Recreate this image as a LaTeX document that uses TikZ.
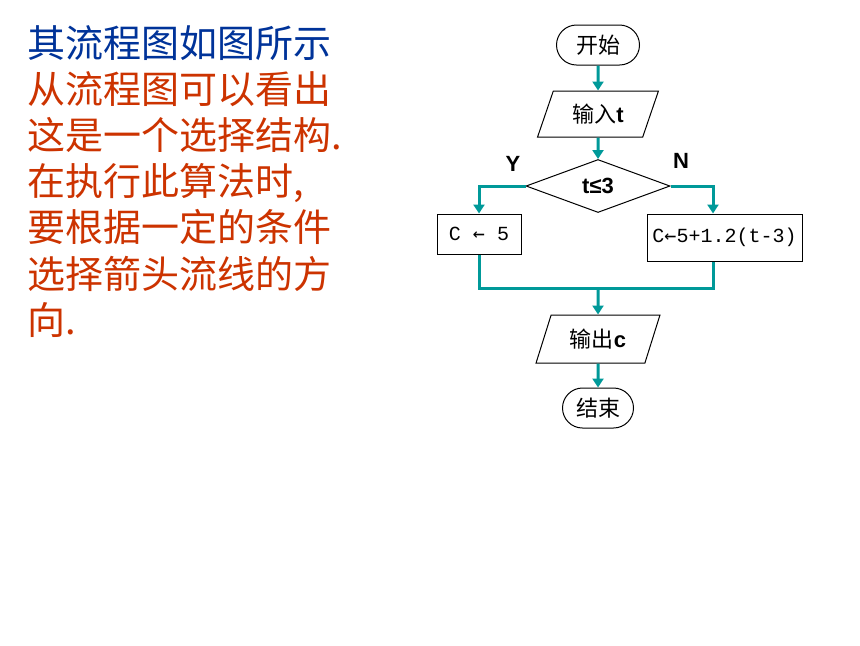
\documentclass[tikz,border=0pt]{standalone}
\usepackage{fontspec}
\setmainfont{Liberation Sans}
\newfontfamily\cjk{Noto Sans CJK SC}
\newfontfamily\codefont{Liberation Mono}
\newfontfamily\arrowfont{DejaVu Sans Mono}
\usepackage{tikz}
\usetikzlibrary{arrows.meta}
\usetikzlibrary{positioning}
\usetikzlibrary{shapes.geometric}
\usetikzlibrary{shapes.misc}
\definecolor{flowteal}{RGB}{0,153,153}
\definecolor{headblue}{RGB}{0,51,153}
\definecolor{notered}{RGB}{204,51,0}
\newcommand*\larr{{\arrowfont ←}}
\newcommand*\latin[1]{{\rmfamily\bfseries #1}}
\tikzset{
    flow/.style = {flowteal,line width=1.5pt,-{Triangle[length=4.5pt,width=5.5pt]}},
    wire/.style = {flowteal,line width=1.5pt},
    headline/.style = {anchor=base west,inner sep=0,text=headblue,font=\cjk\fontsize{19}{23}\selectfont},
    noteline/.style = {anchor=base west,inner sep=0,text=notered,font=\cjk\fontsize{19}{23}\selectfont}
}
\tikzset{
    terminal/.style = {draw,line width=0.5pt,shape=rounded rectangle,minimum height=20pt,inner sep=0,font=\cjk\fontsize{11}{13}\selectfont},
    io/.style = {draw,line width=0.5pt,trapezium,trapezium left angle=66,trapezium right angle=114,trapezium stretches=true,minimum height=23pt,inner sep=0,font=\cjk\fontsize{11}{13}\selectfont},
    decision/.style = {draw,line width=0.5pt,diamond,minimum width=72pt,minimum height=26.5pt,inner sep=0,font=\bfseries\fontsize{11}{13}\selectfont},
    process/.style = {draw,line width=0.5pt,rectangle,inner sep=0,font=\codefont\fontsize{10}{12}\selectfont},
    branch/.style = {inner sep=0,font=\bfseries\fontsize{11}{13}\selectfont}
}
\begin{document}
\begin{tikzpicture}[x=0.5pt,y=-0.5pt]
    \useasboundingbox (0,0) rectangle (860,645);
    % Notes
    \node[headline] (head) at (27,57) {其流程图如图所示};
    \foreach \row/\words in {1/从流程图可以看出,2/这是一个选择结构.,3/{在执行此算法时,},4/要根据一定的条件,5/选择箭头流线的方,6/向.}
        \node[noteline] (note\row) at (27,{57+46.2*\row}) {\words};
    % Steps
    \path (598,45) node[terminal,minimum width=41.5pt] (start) {开始}
        to +(0,69) node[io,minimum width=60.5pt] (read) {输入\latin{t}}
        to +(0,141) node[decision] (test) {t≤3}
        to +(0,294) node[io,minimum width=62pt,minimum height=24pt] (show) {输出\latin{c}}
        to +(0,363) node[terminal,minimum width=35.5pt] (stop) {结束}
    ;
    \path (test)
        to +(-119,48) node[process,minimum width=42pt,minimum height=20pt] (yes) {C \larr{} 5}
        to +(126.5,51.5) node[process,minimum width=77.5pt,minimum height=23.5pt] (no) {C\larr{}5+1.2(t-3)}
        to +(-85,-22) node[branch] (ylab) {Y}
        to +(83,-25) node[branch] (nlab) {N}
    ;
    % Corners
    \coordinate (ncol) at (713,288);
    \coordinate (merge) at (598,288);
    % Arrows
    \foreach \src/\dest in {start/read,read/test,merge/show,show/stop}
        \draw[flow] (\src) -- (\dest);
    \draw[flow] (test.west) -| (yes);
    \draw[flow] (test.east) -| (ncol |- no.north);
    \draw[wire] (yes) |- (ncol) -- (ncol |- no.south);
\end{tikzpicture}
\end{document}
